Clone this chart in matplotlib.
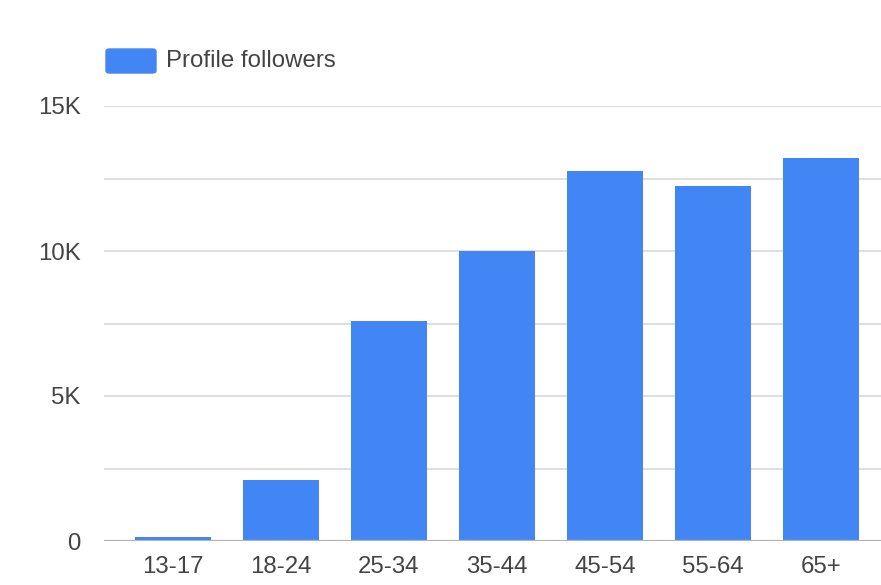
import matplotlib.pyplot as plt
from matplotlib.patches import FancyBboxPatch

# age groups and follower counts
ages = ['13-17', '18-24', '25-34', '35-44', '45-54', '55-64', '65+']
followers = [150, 2100, 7600, 10000, 12760, 12240, 13210]
yticks = [0, 5000, 10000, 15000]
ylabels = ['0', '5K', '10K', '15K']

plt.rcParams['font.family'] = ['Liberation Sans', 'DejaVu Sans']
blue = '#4285F4'
txt = '#444444'

fig = plt.figure(figsize=(8.81, 5.85), dpi=100)
ax = fig.add_axes([104/881, 1-541/585, 777/881, 435/585])

x = range(len(ages))
ax.bar(x, followers, width=0.704, color=blue, zorder=3)

ax.set_ylim(0, 15000)
ax.set_xlim(-0.639, 6.556)
for g in range(0, 15001, 2500):
    if g > 0:
        ax.axhline(g, color='#d9d9d9', lw=1.2, zorder=1)
ax.axhline(0, color='#b3b3b3', lw=1.6, zorder=4)

ax.set_yticks(yticks)
ax.set_yticklabels(ylabels)
ax.set_xticks(list(x))
ax.set_xticklabels(ages)
ax.tick_params(axis='both', length=0, labelsize=17.3, colors=txt)
ax.tick_params(axis='y', pad=17)
ax.tick_params(axis='x', pad=11)
for s in ax.spines.values():
    s.set_visible(False)

# legend drawn by hand like the google chart one
fig.patches.append(FancyBboxPatch((106/881, 1-73/585), 50/881, 24/585,
                                  boxstyle='round,pad=0,rounding_size=0.004',
                                  transform=fig.transFigure, color=blue))
fig.text(166/881, 1-61/585, 'Profile followers', fontsize=17.3, color=txt,
         va='center', ha='left')

fig.savefig('out.png', dpi=100)
